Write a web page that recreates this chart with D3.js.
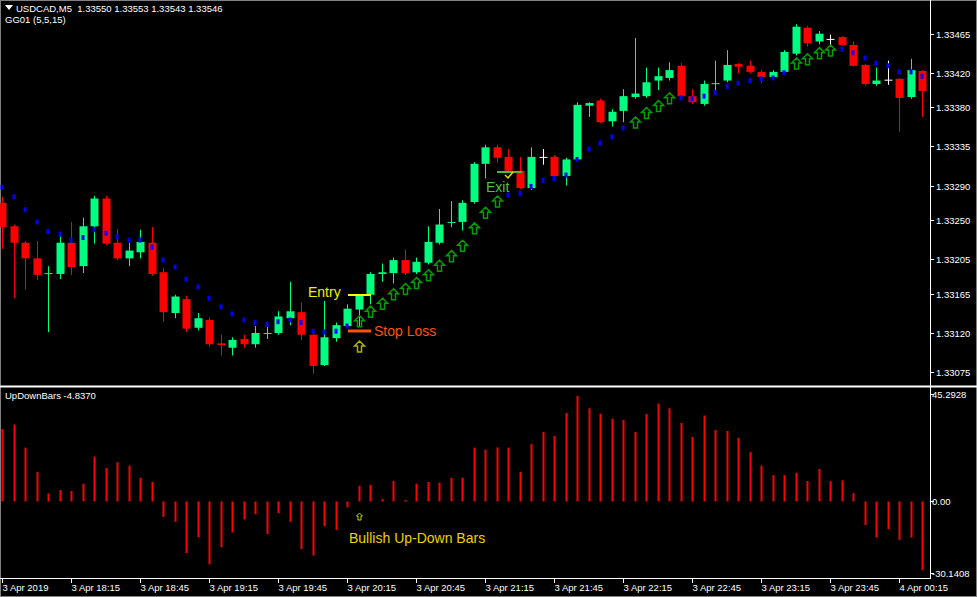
<!DOCTYPE html>
<html>
<head>
<meta charset="utf-8">
<script src="https://cdn.jsdelivr.net/npm/d3@7"></script>
<style>
  body { margin: 0; background: #000; }
  svg { display: block; font-family: 'Liberation Sans', Arial, sans-serif; }
</style>
</head>
<body>
<div id="chart"></div>
<script>
const w = 977;
const h = 597;
// prices are stored as points above 1.33000 (1 point = 0.00001)
const base = 1.33;
const opens = [270,243,224,206,188,188,224,197,243,275,224,206,213,224,190,143,159,126,135,108,103,113,107,119,120,137,144,118,83,114,128,147,164,188,189,204,190,201,224,247,248,271,315,334,323,307,287,323,323,301,320,382,388,364,376,392,393,411,414,428,393,384,408,411,430,428,421,415,421,442,472,456,459,461,452,429,407,412,413,392,422];
const closes = [242,224,206,187,189,224,196,243,275,223,206,215,225,188,144,162,125,137,107,106,112,107,120,120,139,145,118,82,115,129,148,163,188,190,204,189,202,225,245,248,270,315,334,322,307,287,323,323,301,320,383,385,363,375,393,396,409,416,423,393,386,407,408,429,427,421,415,421,444,473,454,465,459,452,428,407,411,412,391,423,399];
const highs = [277,245,226,226,197,231,248,253,278,278,240,224,239,242,195,164,163,143,138,118,115,118,128,127,145,179,155,119,157,132,153,165,190,200,207,216,207,243,263,272,273,317,337,337,332,323,334,332,325,322,386,386,390,378,401,460,426,426,432,431,401,411,434,446,431,434,423,423,446,476,474,468,464,462,456,430,426,434,414,436,423];
const lows = [217,160,170,181,121,182,187,189,223,221,204,197,206,186,133,137,121,123,104,94,94,103,103,113,118,129,112,73,82,110,126,127,153,179,177,187,188,199,222,242,238,269,298,316,306,286,285,314,299,290,318,369,362,358,363,390,391,400,411,391,384,382,397,409,419,419,408,413,419,440,450,453,452,451,427,405,405,406,352,390,369];
// doji bars drawn in white
const whiteBars = [47, 72, 77];
// GG01 trailing level; 'up' marks the bars that show an arrow instead of a dot
const trail = [288,277,262,248,237,234,227,230,239,235,231,227,227,219,204,196,182,173,160,150,142,135,132,130,133,135,132,122,121,122,128,133,144,153,164,170,177,186,197,208,220,240,258,271,279,281,289,296,298,302,320,332,339,346,356,362,373,381,390,391,390,393,397,404,408,411,413,414,420,430,435,442,445,447,443,437,431,428,421,421,416];
const upBars = [31,32,33,34,35,36,37,38,39,40,41,42,43,55,56,57,58,69,70,71,72];
// UpDownBars histogram
const updown = [30.5,32.4,22.7,12.4,3.4,4.8,4.4,7.5,18.9,14.1,16.6,15.1,10,8.2,-6.5,-8.6,-21.7,-15.1,-26.5,-19.3,-13.1,-7.6,-5.4,-13.7,-4.9,-8.6,-20.1,-22.8,-10.4,-12,-2.5,6.6,7,1,8.6,0.6,7.5,8.2,7.9,10,10,22.7,21.8,22.8,22.7,12.4,24.2,29.3,27.6,37.3,44.5,39.3,37,34.9,34.4,29.3,36.9,41.3,39.3,33.1,27.2,36.2,30.1,29.7,26.8,20.8,15.1,11.1,11.1,12.1,8.6,13.7,8.6,8.9,3.5,-9.9,-15.2,-11.7,-16.2,-15.2,-28.9];
const priceTicks = ['1.33465','1.33420','1.33380','1.33335','1.33290','1.33250','1.33205','1.33165','1.33120','1.33075'];
const timeLabels = ['3 Apr 2019','3 Apr 18:15','3 Apr 18:45','3 Apr 19:15','3 Apr 19:45','3 Apr 20:15','3 Apr 20:45','3 Apr 21:15','3 Apr 21:45','3 Apr 22:15','3 Apr 22:45','3 Apr 23:15','3 Apr 23:45','4 Apr 00:15'];
const histTicks = [45.2928, 0, -30.1408];
const histTickLabels = ['45.2928', '0.00', '-30.1408'];

const axisX = 930;
const bull = '#00ff80';
const bear = '#ff0000';

const x = d3.scaleLinear().domain([0, 80]).range([2.3, 922.3]);
const y = d3.scaleLinear().domain([75, 465]).range([372, 33.7]);
const yh = d3.scaleLinear().domain([-30.1408, 45.2928]).range([573, 394]);
const pt = (s) => Math.round((+s - base) * 1e5);

const svg = d3.select('#chart').append('svg').attr('width', w).attr('height', h)
  .style('background', '#000');

// frame and separators
svg.append('rect').attr('x', 0.5).attr('y', 0.5).attr('width', w - 1).attr('height', h - 1)
  .attr('fill', 'none').attr('stroke', '#808080');
svg.append('line').attr('x1', axisX + 0.5).attr('x2', axisX + 0.5).attr('y1', 0).attr('y2', 578)
  .attr('stroke', '#fff');
svg.append('line').attr('x1', 0).attr('x2', w).attr('y1', 386.5).attr('y2', 386.5)
  .attr('stroke', '#fff').attr('stroke-width', 2);
svg.append('line').attr('x1', 0).attr('x2', axisX + 1).attr('y1', 578.5).attr('y2', 578.5)
  .attr('stroke', '#fff');

const idx = d3.range(opens.length);
const col = (i) => whiteBars.includes(i) ? '#fff' : (closes[i] >= opens[i] ? bull : bear);

const plot = svg.append('g');
plot.selectAll('line.wick').data(idx).enter().append('line')
  .attr('class', 'wick')
  .attr('x1', (i) => Math.round(x(i)) + 0.5).attr('x2', (i) => Math.round(x(i)) + 0.5)
  .attr('y1', (i) => y(highs[i])).attr('y2', (i) => y(lows[i]))
  .attr('stroke', col);
plot.selectAll('rect.body').data(idx).enter().append('rect')
  .attr('class', 'body')
  .attr('x', (i) => Math.round(x(i)) - 3.5)
  .attr('y', (i) => y(Math.max(opens[i], closes[i])))
  .attr('width', 8)
  .attr('height', (i) => Math.max(1, Math.abs(y(opens[i]) - y(closes[i]))))
  .attr('fill', col);

// trailing dots
plot.selectAll('circle.dot').data(idx.filter((i) => !upBars.includes(i))).enter().append('rect')
  .attr('x', (i) => Math.round(x(i)) - 1.5).attr('y', (i) => y(trail[i]) - 2.5)
  .attr('width', 3).attr('height', 5).attr('fill', '#0000ff');

// hollow up arrows
const arrowPath = 'M0,-6 L5,-1 L2,-1 L2,5 L-2,5 L-2,-1 L-5,-1 Z';
plot.selectAll('path.arrow').data(upBars).enter().append('path')
  .attr('d', arrowPath)
  .attr('transform', (i) => `translate(${Math.round(x(i)) + 0.5},${y(trail[i])})`)
  .attr('fill', 'none').attr('stroke', '#00a000').attr('stroke-width', 1.5);

// annotations
plot.append('path').attr('d', arrowPath).attr('transform', `translate(${Math.round(x(31)) + 0.5},347)`)
  .attr('fill', 'none').attr('stroke', '#b0b000').attr('stroke-width', 1.5);
svg.append('line').attr('x1', 348).attr('x2', 371).attr('y1', 295).attr('y2', 295)
  .attr('stroke', '#ffff00').attr('stroke-width', 2);
svg.append('text').attr('x', 308).attr('y', 297).text('Entry')
  .attr('fill', '#f0f000').attr('font-size', 14);
svg.append('line').attr('x1', 348).attr('x2', 371).attr('y1', 331).attr('y2', 331)
  .attr('stroke', '#ff5010').attr('stroke-width', 3);
svg.append('text').attr('x', 374).attr('y', 336).text('Stop Loss')
  .attr('fill', '#ff5010').attr('font-size', 14);
svg.append('line').attr('x1', 497).attr('x2', 522).attr('y1', 172).attr('y2', 172)
  .attr('stroke', '#40c040').attr('stroke-width', 2);
svg.append('path').attr('d', 'M505,175 L508,178 L513,172').attr('fill', 'none')
  .attr('stroke', '#e0e000').attr('stroke-width', 1.5);
svg.append('text').attr('x', 486).attr('y', 192).text('Exit')
  .attr('fill', '#50c040').attr('font-size', 14);

// price axis
const pa = svg.append('g').attr('font-size', 9.5).attr('fill', '#fff');
priceTicks.forEach((t) => {
  const yy = Math.round(y(pt(t))) + 0.5;
  pa.append('line').attr('x1', axisX).attr('x2', axisX + 4).attr('y1', yy).attr('y2', yy).attr('stroke', '#fff');
  pa.append('text').attr('x', 936).attr('y', yy + 3.5).text(t);
});

// histogram
svg.selectAll('line.ud').data(idx).enter().append('line')
  .attr('x1', (i) => Math.round(x(i)) + 0.5).attr('x2', (i) => Math.round(x(i)) + 0.5)
  .attr('y1', yh(0)).attr('y2', (i) => yh(updown[i]))
  .attr('stroke', '#ff0000').attr('stroke-width', 2);
svg.append('path').attr('d', 'M0,-4 L3,-1 L1.5,-1 L1.5,3 L-1.5,3 L-1.5,-1 L-3,-1 Z')
  .attr('transform', `translate(${Math.round(x(31)) + 0.5},517)`)
  .attr('fill', 'none').attr('stroke', '#d0d000');
svg.append('text').attr('x', 349).attr('y', 543).text('Bullish Up-Down Bars')
  .attr('fill', '#f0d000').attr('font-size', 14);
const ha = svg.append('g').attr('font-size', 9.5).attr('fill', '#fff');
histTicks.forEach((t, k) => {
  const yy = Math.round(yh(t)) + 0.5;
  ha.append('line').attr('x1', axisX).attr('x2', axisX + 4).attr('y1', yy).attr('y2', yy).attr('stroke', '#fff');
  ha.append('text').attr('x', 932).attr('y', yy + 3.5).text(histTickLabels[k]);
});

// time axis
const ta = svg.append('g').attr('font-size', 9.5).attr('fill', '#fff');
timeLabels.forEach((t, k) => {
  const xx = Math.round(x(k * 6)) + 0.5;
  ta.append('line').attr('x1', xx).attr('x2', xx).attr('y1', 578).attr('y2', 583).attr('stroke', '#fff');
  ta.append('text').attr('x', xx).attr('y', 591).text(t);
});

// headers
const hd = svg.append('g').attr('font-size', 9.5).attr('fill', '#fff');
hd.append('path').attr('d', 'M5,5 L13,5 L9,10 Z').attr('fill', '#fff');
hd.append('text').attr('x', 16).attr('y', 12).text('USDCAD,M5  1.33550 1.33553 1.33543 1.33546').attr('xml:space', 'preserve').style('white-space', 'pre');
hd.append('text').attr('x', 5).attr('y', 23).text('GG01 (5,5,15)');
hd.append('text').attr('x', 5).attr('y', 399).text('UpDownBars -4.8370');
</script>
</body>
</html>
